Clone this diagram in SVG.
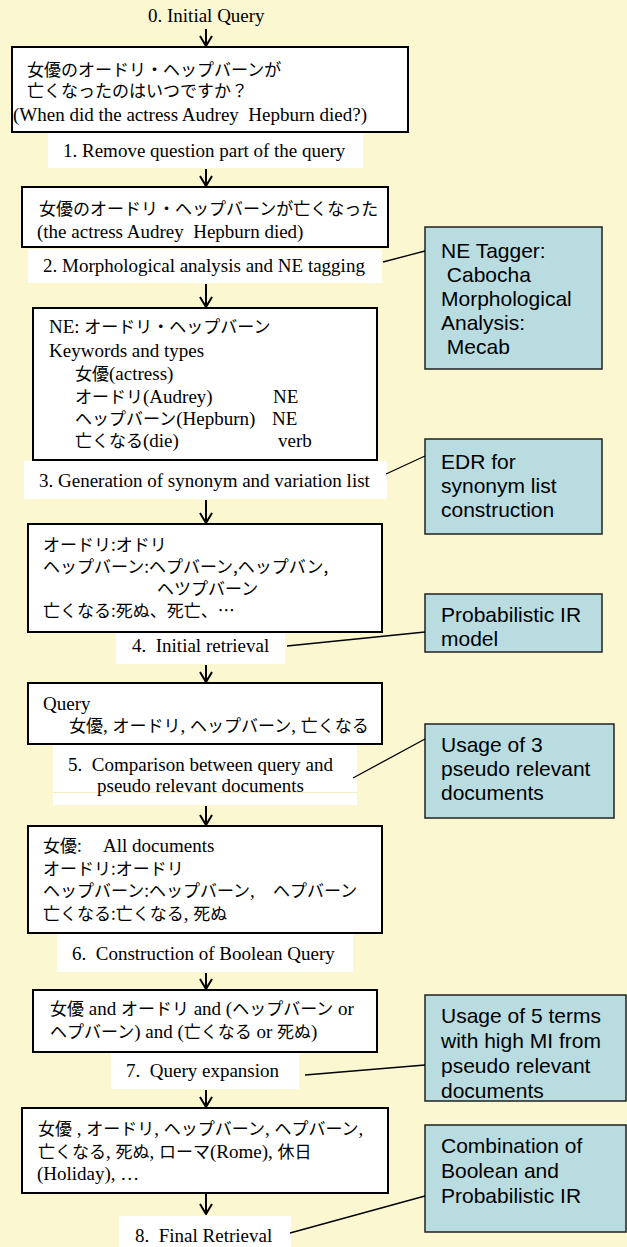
<svg xmlns="http://www.w3.org/2000/svg" width="627" height="1247" viewBox="0 0 627 1247">
<style>
text{white-space:pre}
.s{font-family:"Liberation Serif","Noto Sans CJK JP",serif;font-size:19px;fill:#000}
.j{font-family:"Noto Sans CJK JP",sans-serif;font-size:17px}
.a{font-family:"Liberation Sans",Arial,sans-serif;font-size:21px;fill:#000}
.box{fill:#fff;stroke:#000;stroke-width:2}
.lbl{fill:#fff}
.side{fill:#B8DCE0;stroke:#222;stroke-width:1.5}
.conn{stroke:#000;stroke-width:1.3;fill:none}
.arr{stroke:#000;stroke-width:2;fill:none;marker-end:url(#v)}
</style>
<defs>
<marker id="v" markerUnits="userSpaceOnUse" viewBox="0 0 12 14" refX="11" refY="7" markerWidth="12" markerHeight="14" orient="auto"><path d="M1,1 L11,7 L1,13" fill="none" stroke="#000" stroke-width="2"/></marker>
</defs>
<rect x="0" y="0" width="627" height="1247" fill="#FBF7D0"/>

<g id="step0"><text class="s" x="148" y="22">0. Initial Query</text></g>

<g id="step1"><rect class="lbl" x="48" y="133" width="315" height="35"/><text class="s" x="63" y="157">1. Remove question part of the query</text></g>
<g id="step2"><rect class="lbl" x="28" y="249" width="354" height="34"/><text class="s" x="43" y="272">2. Morphological analysis and NE tagging</text></g>
<g id="step3"><rect class="lbl" x="24" y="461" width="363" height="38"/><text class="s" x="39" y="487">3. Generation of synonym and variation list</text></g>
<g id="step4"><rect class="lbl" x="116" y="633" width="169" height="31"/><text class="s" x="132" y="652">4.  Initial retrieval</text></g>
<g id="step5"><rect class="lbl" x="53" y="745" width="304" height="60"/><line x1="53" y1="792.5" x2="357" y2="792.5" stroke="#F3EDC2" stroke-width="1"/><text class="s" x="68" y="771">5.  Comparison between query and</text><text class="s" x="97" y="792">pseudo relevant documents</text></g>
<g id="step6"><rect class="lbl" x="57" y="934" width="296" height="38"/><text class="s" x="72" y="960">6.  Construction of Boolean Query</text></g>
<g id="step7"><rect class="lbl" x="111" y="1053" width="188" height="36"/><text class="s" x="126" y="1077">7.  Query expansion</text></g>
<g id="step8"><rect class="lbl" x="119" y="1216" width="172" height="31"/><text class="s" x="135" y="1242">8.  Final Retrieval</text></g>

<g id="box1"><rect class="box" x="12" y="47" width="396" height="85"/>
<text class="s" x="27" y="76"><tspan class="j">女優のオードリ・ヘップバーンが</tspan></text>
<text class="s" x="27" y="97"><tspan class="j">亡くなったのはいつですか？</tspan></text>
<text class="s" x="13" y="121">(When did the actress Audrey  Hepburn died?)</text></g>

<g id="box2"><rect class="box" x="22" y="187" width="366" height="60"/>
<text class="s" x="39" y="215"><tspan class="j">女優のオードリ・ヘップバーンが亡くなった</tspan></text>
<text class="s" x="37" y="238">(the actress Audrey  Hepburn died)</text></g>

<g id="box3"><rect class="box" x="33" y="308" width="344" height="152"/>
<text class="s" x="49" y="333">NE: <tspan class="j">オードリ・ヘップバーン</tspan></text>
<text class="s" x="49" y="357">Keywords and types</text>
<text class="s" x="75" y="380"><tspan class="j">女優</tspan>(actress)</text>
<text class="s" x="75" y="403"><tspan class="j">オードリ</tspan>(Audrey)</text><text class="s" x="273" y="403">NE</text>
<text class="s" x="75" y="425"><tspan class="j">ヘップバーン</tspan>(Hepburn)</text><text class="s" x="272" y="425">NE</text>
<text class="s" x="75" y="447"><tspan class="j">亡くなる</tspan>(die)</text><text class="s" x="278" y="447">verb</text></g>

<g id="box4"><rect class="box" x="28" y="524" width="354" height="108"/>
<text class="s" x="43" y="551"><tspan class="j">オードリ:オドリ</tspan></text>
<text class="s" x="43" y="573"><tspan class="j">ヘップバーン:ヘプバーン,ヘップバン,</tspan></text>
<text class="s" x="157" y="595"><tspan class="j">ヘツプバーン</tspan></text>
<text class="s" x="43" y="617"><tspan class="j">亡くなる:死ぬ、死亡、…</tspan></text></g>

<g id="box5"><rect class="box" x="28" y="683" width="354" height="61"/>
<text class="s" x="43" y="710">Query</text>
<text class="s" x="69" y="732"><tspan class="j">女優</tspan>, <tspan class="j">オードリ</tspan>, <tspan class="j">ヘップバーン</tspan>, <tspan class="j">亡くなる</tspan></text></g>

<g id="box6"><rect class="box" x="28" y="826" width="354" height="107"/>
<text class="s" x="43" y="852"><tspan class="j">女優:</tspan></text><text class="s" x="103" y="852">All documents</text>
<text class="s" x="43" y="875"><tspan class="j">オードリ:オードリ</tspan></text>
<text class="s" x="43" y="897"><tspan class="j">ヘップバーン:ヘップバーン</tspan>,</text><text class="s" x="273" y="897"><tspan class="j">ヘプバーン</tspan></text>
<text class="s" x="43" y="920"><tspan class="j">亡くなる:亡くなる</tspan>, <tspan class="j">死ぬ</tspan></text></g>

<g id="box7"><rect class="box" x="33" y="990" width="344" height="62"/>
<text class="s" x="50" y="1015"><tspan class="j">女優</tspan> and <tspan class="j">オードリ</tspan> and (<tspan class="j">ヘップバーン</tspan> or</text>
<text class="s" x="50" y="1038"><tspan class="j">ヘプバーン</tspan>) and (<tspan class="j">亡くなる</tspan> or <tspan class="j">死ぬ</tspan>)</text></g>

<g id="box8"><rect class="box" x="22" y="1108" width="366" height="85"/>
<text class="s" x="38" y="1135"><tspan class="j">女優</tspan> , <tspan class="j">オードリ</tspan>, <tspan class="j">ヘップバーン</tspan>, <tspan class="j">ヘプバーン</tspan>,</text>
<text class="s" x="38" y="1158"><tspan class="j">亡くなる</tspan>, <tspan class="j">死ぬ</tspan>, <tspan class="j">ローマ</tspan>(Rome), <tspan class="j">休日</tspan></text>
<text class="s" x="37" y="1180">(Holiday), …</text></g>

<g id="noteNE"><rect class="side" x="425" y="227" width="177" height="142"/>
<text class="a" x="441" y="258">NE Tagger:</text>
<text class="a" x="441" y="282"> Cabocha</text>
<text class="a" x="441" y="306">Morphological</text>
<text class="a" x="441" y="330">Analysis:</text>
<text class="a" x="441" y="354"> Mecab</text></g>

<g id="noteEDR"><rect class="side" x="425" y="439" width="177" height="95"/>
<text class="a" x="441" y="469">EDR for</text>
<text class="a" x="441" y="493">synonym list</text>
<text class="a" x="441" y="517">construction</text></g>

<g id="noteProb"><rect class="side" x="425" y="594" width="177" height="58"/>
<text class="a" x="441" y="622">Probabilistic IR</text>
<text class="a" x="441" y="646">model</text></g>

<g id="notePseudo"><rect class="side" x="425" y="724" width="189" height="94"/>
<text class="a" x="441" y="752">Usage of 3</text>
<text class="a" x="441" y="776">pseudo relevant</text>
<text class="a" x="441" y="800">documents</text></g>

<g id="noteTerms"><rect class="side" x="425" y="995" width="201" height="106"/>
<text class="a" x="441" y="1023">Usage of 5 terms</text>
<text class="a" x="441" y="1048">with high MI from</text>
<text class="a" x="441" y="1073">pseudo relevant</text>
<text class="a" x="441" y="1098">documents</text></g>

<g id="noteComb"><rect class="side" x="425" y="1125" width="201" height="107"/>
<text class="a" x="441" y="1153">Combination of</text>
<text class="a" x="441" y="1178">Boolean and</text>
<text class="a" x="441" y="1203">Probabilistic IR</text></g>

<g id="connectors">
<line class="arr" x1="206" y1="29" x2="206" y2="46"/>
<line class="arr" x1="206" y1="169" x2="206" y2="186"/>
<line class="arr" x1="206" y1="284" x2="206" y2="307"/>
<line class="arr" x1="206" y1="500" x2="206" y2="523"/>
<line class="arr" x1="206" y1="665" x2="206" y2="682"/>
<line class="arr" x1="206" y1="806" x2="206" y2="825"/>
<line class="arr" x1="206" y1="973" x2="206" y2="989"/>
<line class="arr" x1="206" y1="1090" x2="206" y2="1107"/>
<line class="arr" x1="206" y1="1194" x2="206" y2="1214"/>
<line class="conn" x1="383" y1="262" x2="425" y2="251"/>
<line class="conn" x1="386" y1="474" x2="425" y2="456"/>
<line class="conn" x1="287" y1="646" x2="425" y2="632"/>
<line class="conn" x1="353" y1="778" x2="425" y2="739"/>
<line class="conn" x1="305" y1="1075" x2="425" y2="1065"/>
<line class="conn" x1="290" y1="1233" x2="425" y2="1196"/>
</g>
</svg>
